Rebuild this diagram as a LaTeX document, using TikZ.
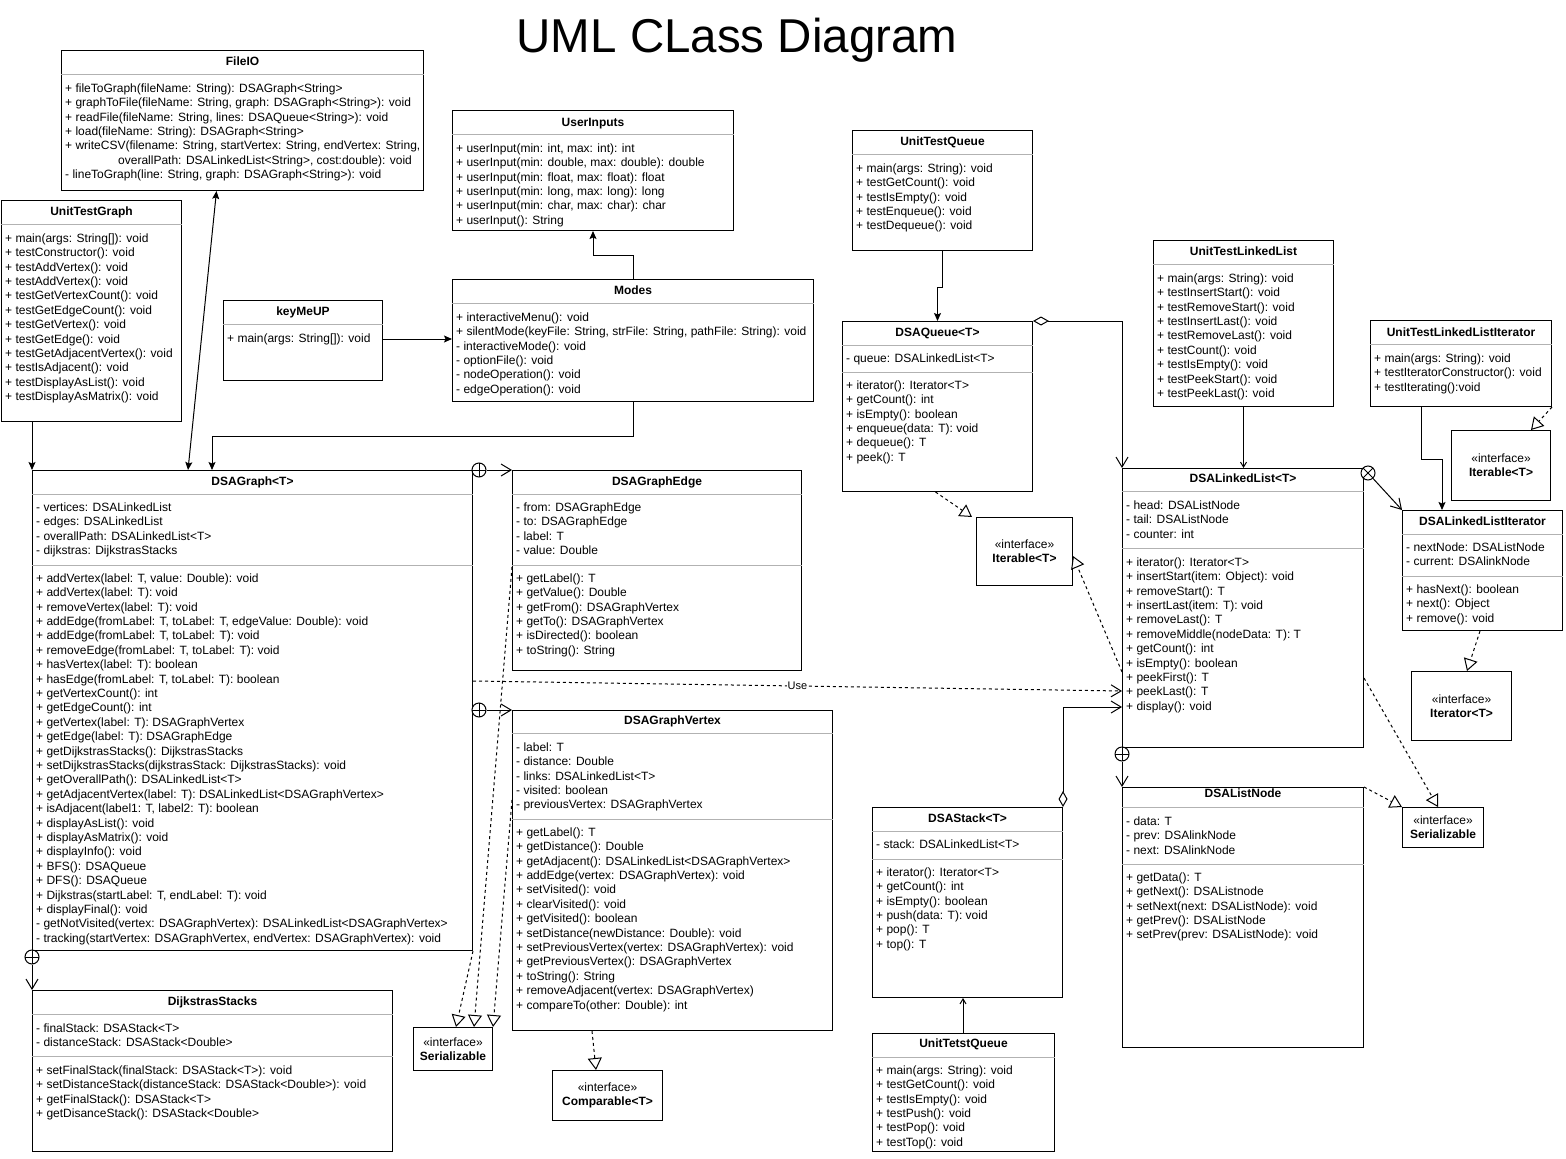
\documentclass[tikz,border=0pt]{standalone}
\usepackage{fontspec}
\setmainfont{Liberation Sans}
\usetikzlibrary{arrows.meta,calc}

\tikzset{
  umlbox/.style={draw=black, line width=1pt, fill=white, inner sep=0pt, anchor=north west},
  ttl/.style={font=\bfseries\fontsize{12}{14.4}\selectfont, inner sep=0pt, anchor=base},
  mem/.style={font=\fontsize{12}{14.4}\selectfont, align=left, inner sep=0pt, anchor=north west},
  sepl/.style={draw=gray!60, line width=1pt},
  iface/.style={draw=black, line width=1pt, fill=white, inner sep=0pt, align=center, anchor=north west, font=\fontsize{12}{14.4}\selectfont},
  conn/.style={line width=1pt},
  filled/.style={conn, -{Stealth[length=8pt,width=7pt,inset=1.5pt]}},
  openv/.style={conn, -{Straight Barb[length=10pt,width=12pt]}},
  smallv/.style={conn, -{Straight Barb[length=5pt,width=6pt]}},
  dash3/.style={dash pattern=on 3pt off 3pt},
  realize/.style={conn, dash3, -{Triangle[fill=white,length=12pt,width=14pt]}},
  aggr/.style={conn, {Diamond[fill=white,length=16pt,width=9pt]}-{Straight Barb[length=10pt,width=12pt]}},
  nest/.style={circle, draw, line width=1pt, fill=white, minimum size=14pt, inner sep=0pt,
    path picture={\draw[line width=1pt] (path picture bounding box.north) -- (path picture bounding box.south)
      (path picture bounding box.west) -- (path picture bounding box.east);}},
  xcirc/.style={circle, draw, line width=1pt, fill=white, minimum size=14pt, inner sep=0pt,
    path picture={\draw[line width=1pt] (path picture bounding box.north west) -- (path picture bounding box.south east)
      (path picture bounding box.south west) -- (path picture bounding box.north east);}},
  uselbl/.style={fill=white, inner sep=1pt, font=\fontsize{11}{13}\selectfont},
  bigtitle/.style={font=\fontsize{47.5}{57}\selectfont, inner sep=0pt, anchor=base}
}

% class box: name, x, y, w, h, title, title baseline offset
\newcommand{\ucls}[7]{%
  \node[umlbox, minimum width=#4pt, minimum height=#5pt] (#1) at (#2,#3) {};
  \node[ttl] at ($(#1.north)+(0,#7)$) {#6};}
% separator: name, offset
\newcommand{\usep}[2]{\draw[sepl] ($(#1.north west)+(0,#2)$) -- ($(#1.north east)+(0,#2)$);}
% members: name, first baseline offset, lines
\newcommand{\umem}[3]{\node[mem] at ($(#1.north west)+(4,#2-10)$) {\rule{0pt}{10pt}#3};}

\begin{document}
\begin{tikzpicture}[x=1pt,y=-1pt]
\fill[white] (0,0) rectangle (1566,1159);
\useasboundingbox (0,0) rectangle (1566,1159);

\node[bigtitle] (title) at (737,52) {UML CLass Diagram};

% FileIO
\ucls{fileio}{61}{50}{362}{140}{FileIO}{15}
\usep{fileio}{24}
\umem{fileio}{42}{+ fileToGraph(fileName: String): DSAGraph<String>\\
+ graphToFile(fileName: String, graph: DSAGraph<String>): void\\
+ readFile(fileName: String, lines: DSAQueue<String>): void\\
+ load(fileName: String): DSAGraph<String>\\
+ writeCSV(filename: String, startVertex: String, endVertex: String,\\
\hspace*{53pt}overallPath: DSALinkedList<String>, cost:double): void\\
- lineToGraph(line: String, graph: DSAGraph<String>): void}

% UserInputs
\ucls{userinputs}{452}{110}{281}{120}{UserInputs}{16}
\usep{userinputs}{24}
\umem{userinputs}{42}{+ userInput(min: int, max: int): int\\
+ userInput(min: double, max: double): double\\
+ userInput(min: float, max: float): float\\
+ userInput(min: long, max: long): long\\
+ userInput(min: char, max: char): char\\
+ userInput(): String}

% UnitTestGraph
\ucls{unittestgraph}{1}{200}{180}{221}{UnitTestGraph}{15}
\usep{unittestgraph}{24}
\umem{unittestgraph}{42}{+ main(args: String[]): void\\
+ testConstructor(): void\\
+ testAddVertex(): void\\
+ testAddVertex(): void\\
+ testGetVertexCount(): void\\
+ testGetEdgeCount(): void\\
+ testGetVertex(): void\\
+ testGetEdge(): void\\
+ testGetAdjacentVertex(): void\\
+ testIsAdjacent(): void\\
+ testDisplayAsList(): void\\
+ testDisplayAsMatrix(): void}

% keyMeUP
\ucls{keymeup}{223}{300}{159}{80}{keyMeUP}{15}
\usep{keymeup}{24}
\umem{keymeup}{42}{+ main(args: String[]): void}

% Modes
\ucls{modes}{452}{279}{361}{122}{Modes}{15}
\usep{modes}{24}
\umem{modes}{42}{+ interactiveMenu(): void\\
+ silentMode(keyFile: String, strFile: String, pathFile: String): void\\
- interactiveMode(): void\\
- optionFile(): void\\
- nodeOperation(): void\\
- edgeOperation(): void}

% UnitTestQueue
\ucls{unittestqueue}{852}{130}{180}{120}{UnitTestQueue}{15}
\usep{unittestqueue}{24}
\umem{unittestqueue}{42}{+ main(args: String): void\\
+ testGetCount(): void\\
+ testIsEmpty(): void\\
+ testEnqueue(): void\\
+ testDequeue(): void}

% DSAQueue
\ucls{dsaqueue}{842}{321}{190}{170}{DSAQueue<T>}{15}
\usep{dsaqueue}{24}
\umem{dsaqueue}{41}{- queue: DSALinkedList<T>}
\usep{dsaqueue}{51}
\umem{dsaqueue}{68}{+ iterator(): Iterator<T>\\
+ getCount(): int\\
+ isEmpty(): boolean\\
+ enqueue(data: T): void\\
+ dequeue(): T\\
+ peek(): T}

% UnitTestLinkedList
\ucls{unittestll}{1153}{240}{180}{166}{UnitTestLinkedList}{15}
\usep{unittestll}{24}
\umem{unittestll}{42}{+ main(args: String): void\\
+ testInsertStart(): void\\
+ testRemoveStart(): void\\
+ testInsertLast(): void\\
+ testRemoveLast(): void\\
+ testCount(): void\\
+ testIsEmpty(): void\\
+ testPeekStart(): void\\
+ testPeekLast(): void}

% UnitTestLinkedListIterator
\ucls{unittestlliter}{1370}{320}{181}{86}{UnitTestLinkedListIterator}{16}
\usep{unittestlliter}{24}
\umem{unittestlliter}{42}{+ main(args: String): void\\
+ testIteratorConstructor(): void\\
+ testIterating():void}

% Iterable (right)
\node[iface, minimum width=99pt, minimum height=70pt] (iterableR) at (1451,430) {«interface»\\\textbf{Iterable<T>}};

% DSALinkedListIterator
\ucls{dsalliter}{1402}{510}{160}{120}{DSALinkedListIterator}{15}
\usep{dsalliter}{24}
\umem{dsalliter}{41}{- nextNode: DSAListNode\\
- current: DSAlinkNode}
\usep{dsalliter}{66}
\umem{dsalliter}{83}{+ hasNext(): boolean\\
+ next(): Object\\
+ remove(): void}

% Iterator interface
\node[iface, minimum width=100pt, minimum height=69pt] (iterator) at (1411,671) {«interface»\\\textbf{Iterator<T>}};

% DSALinkedList
\ucls{dsall}{1122}{468}{241}{279}{DSALinkedList<T>}{14}
\usep{dsall}{23}
\umem{dsall}{41}{- head: DSAListNode\\
- tail: DSAListNode\\
- counter: int}
\usep{dsall}{80}
\umem{dsall}{98}{+ iterator(): Iterator<T>\\
+ insertStart(item: Object): void\\
+ removeStart(): T\\
+ insertLast(item: T): void\\
+ removeLast(): T\\
+ removeMiddle(nodeData: T): T\\
+ getCount(): int\\
+ isEmpty(): boolean\\
+ peekFirst(): T\\
+ peekLast(): T\\
+ display(): void}

% Iterable (middle)
\node[iface, minimum width=96pt, minimum height=68pt] (iterableM) at (976,517) {«interface»\\\textbf{Iterable<T>}};

% DSAListNode
\ucls{dsalistnode}{1122}{787}{241}{260}{DSAListNode}{10}
\usep{dsalistnode}{20}
\umem{dsalistnode}{38}{- data: T\\
- prev: DSAlinkNode\\
- next: DSAlinkNode}
\usep{dsalistnode}{77}
\umem{dsalistnode}{94}{+ getData(): T\\
+ getNext(): DSAListnode\\
+ setNext(next: DSAListNode): void\\
+ getPrev(): DSAListNode\\
+ setPrev(prev: DSAListNode): void}

% Serializable (right)
\node[iface, minimum width=81pt, minimum height=40pt] (serR) at (1402,807) {«interface»\\\textbf{Serializable}};

% DSAStack
\ucls{dsastack}{872}{807}{190}{190}{DSAStack<T>}{15}
\usep{dsastack}{24}
\umem{dsastack}{41}{- stack: DSALinkedList<T>}
\usep{dsastack}{52}
\umem{dsastack}{69}{+ iterator(): Iterator<T>\\
+ getCount(): int\\
+ isEmpty(): boolean\\
+ push(data: T): void\\
+ pop(): T\\
+ top(): T}

% UnitTetstQueue
\ucls{unittetstqueue}{872}{1033}{182}{118}{UnitTetstQueue}{14}
\usep{unittetstqueue}{24}
\umem{unittetstqueue}{41}{+ main(args: String): void\\
+ testGetCount(): void\\
+ testIsEmpty(): void\\
+ testPush(): void\\
+ testPop(): void\\
+ testTop(): void}

% DSAGraph
\ucls{dsagraph}{32}{470}{440}{480}{DSAGraph<T>}{15}
\usep{dsagraph}{24}
\umem{dsagraph}{41}{- vertices: DSALinkedList\\
- edges: DSALinkedList\\
- overallPath: DSALinkedList<T>\\
- dijkstras: DijkstrasStacks}
\usep{dsagraph}{95}
\umem{dsagraph}{112}{+ addVertex(label: T, value: Double): void\\
+ addVertex(label: T): void\\
+ removeVertex(label: T): void\\
+ addEdge(fromLabel: T, toLabel: T, edgeValue: Double): void\\
+ addEdge(fromLabel: T, toLabel: T): void\\
+ removeEdge(fromLabel: T, toLabel: T): void\\
+ hasVertex(label: T): boolean\\
+ hasEdge(fromLabel: T, toLabel: T): boolean\\
+ getVertexCount(): int\\
+ getEdgeCount(): int\\
+ getVertex(label: T): DSAGraphVertex\\
+ getEdge(label: T): DSAGraphEdge\\
+ getDijkstrasStacks(): DijkstrasStacks\\
+ setDijkstrasStacks(dijkstrasStack: DijkstrasStacks): void\\
+ getOverallPath(): DSALinkedList<T>\\
+ getAdjacentVertex(label: T): DSALinkedList<DSAGraphVertex>\\
+ isAdjacent(label1: T, label2: T): boolean\\
+ displayAsList(): void\\
+ displayAsMatrix(): void\\
+ displayInfo(): void\\
+ BFS(): DSAQueue\\
+ DFS(): DSAQueue\\
+ Dijkstras(startLabel: T, endLabel: T): void\\
+ displayFinal(): void\\
- getNotVisited(vertex: DSAGraphVertex): DSALinkedList<DSAGraphVertex>\\
- tracking(startVertex: DSAGraphVertex, endVertex: DSAGraphVertex): void}

% DSAGraphEdge
\ucls{dsagraphedge}{512}{470}{289}{200}{DSAGraphEdge}{15}
\usep{dsagraphedge}{24}
\umem{dsagraphedge}{41}{- from: DSAGraphEdge\\
- to: DSAGraphEdge\\
- label: T\\
- value: Double}
\usep{dsagraphedge}{95}
\umem{dsagraphedge}{112}{+ getLabel(): T\\
+ getValue(): Double\\
+ getFrom(): DSAGraphVertex\\
+ getTo(): DSAGraphVertex\\
+ isDirected(): boolean\\
+ toString(): String}

% DSAGraphVertex
\ucls{dsagraphvertex}{512}{710}{320}{320}{DSAGraphVertex}{14}
\usep{dsagraphvertex}{23}
\umem{dsagraphvertex}{41}{- label: T\\
- distance: Double\\
- links: DSALinkedList<T>\\
- visited: boolean\\
- previousVertex: DSAGraphVertex}
\usep{dsagraphvertex}{109}
\umem{dsagraphvertex}{126}{+ getLabel(): T\\
+ getDistance(): Double\\
+ getAdjacent(): DSALinkedList<DSAGraphVertex>\\
+ addEdge(vertex: DSAGraphVertex): void\\
+ setVisited(): void\\
+ clearVisited(): void\\
+ getVisited(): boolean\\
+ setDistance(newDistance: Double): void\\
+ setPreviousVertex(vertex: DSAGraphVertex): void\\
+ getPreviousVertex(): DSAGraphVertex\\
+ toString(): String\\
+ removeAdjacent(vertex: DSAGraphVertex)\\
+ compareTo(other: Double): int}

% Serializable (left)
\node[iface, minimum width=79pt, minimum height=43pt] (serL) at (413,1027) {«interface»\\\textbf{Serializable}};

% Comparable
\node[iface, minimum width=110pt, minimum height=50pt] (comparable) at (552,1070) {«interface»\\\textbf{Comparable<T>}};

% DijkstrasStacks
\ucls{dijkstras}{32}{990}{360}{161}{DijkstrasStacks}{15}
\usep{dijkstras}{24}
\umem{dijkstras}{42}{- finalStack: DSAStack<T>\\
- distanceStack: DSAStack<Double>}
\usep{dijkstras}{66}
\umem{dijkstras}{84}{+ setFinalStack(finalStack: DSAStack<T>): void\\
+ setDistanceStack(distanceStack: DSAStack<Double>): void\\
+ getFinalStack(): DSAStack<T>\\
+ getDisanceStack(): DSAStack<Double>}

% ---------------- connectors ----------------
% UnitTestGraph -> DSAGraph
\draw[filled] (unittestgraph.south -| dsagraph.north west) -- (dsagraph.north west);
% FileIO <-> DSAGraph
\draw[conn, {Stealth[length=8pt,width=7pt,inset=1.5pt]}-{Stealth[length=8pt,width=7pt,inset=1.5pt]}]
  ($(fileio.south)+(-26,0)$) -- ($(dsagraph.north west)+(156,0)$);
% Modes -> DSAGraph
\draw[filled] (modes.south) -- ++(0,34) -| ($(dsagraph.north west)+(180,0)$);
% keyMeUP -> Modes
\draw[filled] ($(keymeup.north east)+(0,39)$) -- ($(modes.north west)+(0,60)$);
% Modes -> UserInputs
\draw[filled] (modes.north) -- ++(0,-24) -| (userinputs.south);
% UnitTestQueue -> DSAQueue
\draw[filled] (unittestqueue.south) -- ++(0,36) -| (dsaqueue.north);
% DSAQueue aggregation -> DSALinkedList
\draw[aggr] (dsaqueue.north east) -| (dsall.north west);
% DSAQueue realizes Iterable
\draw[realize] ($(dsaqueue.south)+(-2,0)$) -- ($(iterableM.north west)+(-4,0)$);
% DSALinkedList realizes Iterable
\draw[realize] ($(dsall.north west)+(0,204)$) -- ($(iterableM.north east)+(0,39)$);
% UnitTestLinkedList -> DSALinkedList
\draw[smallv] (unittestll.south) -- (unittestll.south |- dsall.north);
% UnitTestLinkedListIterator -> DSALinkedListIterator
\draw[filled] ($(unittestlliter.south west)+(51,0)$) -- ++(0,52) -| ($(dsalliter.north west)+(40,0)$);
% UnitTestLinkedListIterator realizes Iterable
\draw[realize] (unittestlliter.south east) -- ($(iterableR.north east)+(-20,0)$);
% DSALinkedList nested iterator
\node[xcirc] (xc) at (1368,473) {};
\draw[openv] (xc) -- (dsalliter.north west);
% DSALinkedListIterator realizes Iterator
\draw[realize] ($(dsalliter.south west)+(78,0)$) -- ($(iterator.north west)+(56,0)$);
% DSALinkedList realizes Serializable
\draw[realize] ($(dsall.north east)+(0,210)$) -- ($(serR.north west)+(36,0)$);
% DSAListNode realizes Serializable
\draw[realize] (dsalistnode.north east) -- (serR.north west);
% DSALinkedList nests DSAListNode
\node[nest] (n4) at (1122,754) {};
\draw[openv] (n4) -- (dsalistnode.north west);
% DSAStack aggregation -> DSALinkedList
\draw[aggr] (dsastack.north east) |- ($(dsall.north west)+(0,239)$);
% UnitTetstQueue -> DSAStack
\draw[smallv] ($(unittetstqueue.north west)+(91,0)$) -- ($(dsastack.south west)+(91,0)$);
% DSAGraph nests
\node[nest] (n1) at (479,470) {};
\draw[openv] (n1) -- (dsagraphedge.north west);
\node[nest] (n2) at (479,710) {};
\draw[openv] (n2) -- (dsagraphvertex.north west);
\node[nest] (n3) at (32,957) {};
\draw[openv] (n3) -- (dijkstras.north west);
% Use
\draw[conn, dash3, -{Straight Barb[length=10pt,width=12pt]}] ($(dsagraph.north east)+(0,211)$) -- node[uselbl] {Use} ($(dsall.north west)+(0,223)$);
% realizations to Serializable (left)
\draw[realize] (dsagraph.south east) -- ($(serL.north west)+(43,0)$);
\draw[realize] ($(dsagraphedge.north west)+(0,97)$) -- ($(serL.north west)+(61,0)$);
\draw[realize] ($(dsagraphvertex.north west)+(0,90)$) -- (serL.north east);
% DSAGraphVertex realizes Comparable
\draw[realize] ($(dsagraphvertex.south west)+(80,0)$) -- ($(comparable.north west)+(44,0)$);
\end{tikzpicture}
\end{document}
